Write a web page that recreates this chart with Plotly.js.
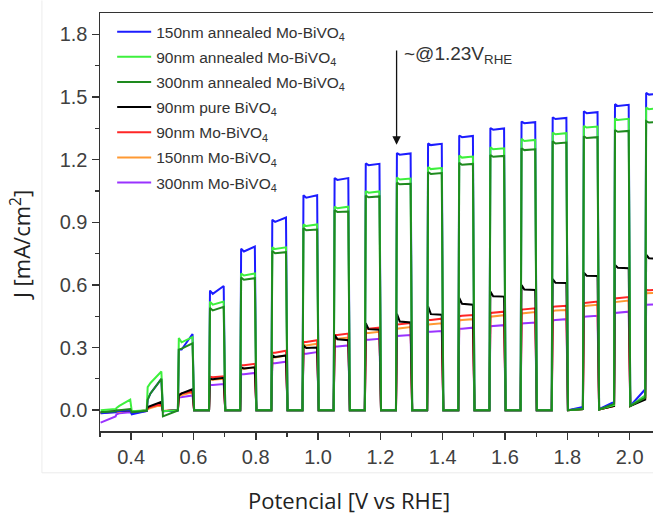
<!DOCTYPE html>
<html>
<head>
<meta charset="utf-8">
<script src="https://cdn.plot.ly/plotly-3.0.1.min.js"></script>
<style>html,body{margin:0;padding:0;background:#fff;}#chart{width:653px;height:518px;}</style>
</head>
<body>
<div id="chart"></div>
<script>
// Chopped-light J–V data. Light pulses start at 0.35, 0.45, ... 2.05 V (each 0.05 V long);
// dark periods start at 0.30, 0.40, ... 2.00 V.
const pulseOn = [0.35,0.45,0.55,0.65,0.75,0.85,0.95,1.05,1.15,1.25,1.35,1.45,1.55,1.65,1.75,1.85,1.95,2.05];
const darkOn  = [0.30,0.40,0.50,0.60,0.70,0.80,0.90,1.00,1.10,1.20,1.30,1.40,1.50,1.60,1.70,1.80,1.90,2.00];

// 150nm annealed Mo-BiVO4
const a150Start = [-0.005,0.05,0.29,0.573,0.773,0.912,1.03,1.112,1.182,1.232,1.278,1.316,1.352,1.383,1.403,1.432,1.466,1.52];
const a150Mid   = [-0.004,0.08,0.29,0.557,0.76,0.902,1.018,1.103,1.174,1.224,1.27,1.308,1.344,1.375,1.395,1.423,1.457,1.512];
const a150End   = [0.0,0.15,0.365,0.595,0.784,0.923,1.03,1.112,1.18,1.23,1.276,1.314,1.35,1.38,1.4,1.428,1.463,1.518];
const a150DarkS = [-0.015,-0.02,-0.005,0,0,0,0,0,0,0,0,0,0,0,0,0,0.005,0.02];
const a150DarkE = [-0.01,-0.004,-0.002,0,0,0,0,0,0,0,0,0,0,0,0,0.015,0.04,0.1];

// 90nm annealed Mo-BiVO4
const a90Start = [0.01,0.11,0.345,0.52,0.655,0.78,0.89,0.975,1.05,1.115,1.165,1.22,1.26,1.3,1.33,1.362,1.398,1.45];
const a90Mid   = [0.02,0.13,0.325,0.505,0.645,0.772,0.882,0.967,1.042,1.105,1.155,1.21,1.25,1.29,1.322,1.354,1.39,1.442];
const a90End   = [0.05,0.185,0.35,0.52,0.655,0.78,0.89,0.975,1.048,1.11,1.16,1.215,1.255,1.295,1.327,1.359,1.396,1.447];
const a90DarkS = [0.0,-0.005,-0.005,0,0,0,0,0,0,0,0,0,0,0,0,0,0.003,0.02];
const a90DarkE = [0.005,0.0,0,0,0,0,0,0,0,0,0,0,0,0,0,0.005,0.025,0.07];

// 300nm annealed Mo-BiVO4
const a300Start = [0.0,0.05,0.29,0.49,0.635,0.762,0.872,0.958,1.028,1.09,1.14,1.185,1.222,1.255,1.288,1.312,1.342,1.385];
const a300Mid   = [0.0,0.08,0.295,0.478,0.625,0.752,0.862,0.95,1.02,1.082,1.132,1.176,1.214,1.246,1.278,1.304,1.334,1.378];
const a300End   = [0.005,0.15,0.32,0.495,0.632,0.757,0.865,0.952,1.024,1.085,1.136,1.18,1.218,1.25,1.282,1.308,1.338,1.382];
const a300DarkS = [-0.01,-0.01,-0.03,0,0,0,0,0,0,0,0,0,0,0,0,0,0.003,0.02];
const a300DarkE = [-0.005,-0.003,-0.002,0,0,0,0,0,0,0,0,0,0,0,0,0.005,0.03,0.06];

// 90nm pure BiVO4
const p90Start = [-0.005,0.015,0.07,0.15,0.205,0.262,0.31,0.36,0.417,0.462,0.497,0.537,0.568,0.6,0.628,0.659,0.696,0.745];
const p90Mid   = [-0.004,0.02,0.08,0.148,0.2,0.255,0.298,0.34,0.388,0.425,0.46,0.51,0.546,0.578,0.61,0.644,0.682,0.728];
const p90End   = [0.0,0.04,0.1,0.155,0.205,0.262,0.3,0.335,0.385,0.42,0.457,0.505,0.544,0.576,0.609,0.643,0.68,0.725];
const p90DarkS = [-0.01,-0.008,-0.005,0,0,0,0,0,0,0,0,0,0,0,0,0,0.003,0.02];
const p90DarkE = [-0.005,-0.002,0,0,0,0,0,0,0,0,0,0,0,0,0,0.005,0.02,0.05];

// 90nm Mo-BiVO4
const m90Start = [-0.005,0.01,0.075,0.16,0.215,0.275,0.327,0.36,0.39,0.41,0.432,0.45,0.466,0.482,0.495,0.513,0.535,0.576];
const m90Mid   = [-0.004,0.015,0.08,0.158,0.215,0.275,0.327,0.36,0.39,0.412,0.432,0.452,0.468,0.484,0.497,0.515,0.537,0.575];
const m90End   = [0.0,0.03,0.09,0.162,0.222,0.285,0.335,0.367,0.395,0.418,0.438,0.456,0.472,0.488,0.5,0.52,0.542,0.578];
const m90DarkS = [-0.012,-0.008,-0.004,0,0,0,0,0,0,0,0,0,0,0,0,0,0.003,0.02];
const m90DarkE = [-0.006,-0.002,0,0,0,0,0,0,0,0,0,0,0,0,0,0.005,0.02,0.06];

// 150nm Mo-BiVO4
const m150Start = [-0.005,0.005,0.065,0.145,0.2,0.255,0.312,0.345,0.37,0.39,0.41,0.43,0.448,0.463,0.475,0.498,0.518,0.56];
const m150Mid   = [-0.005,0.01,0.072,0.145,0.198,0.252,0.31,0.342,0.37,0.392,0.412,0.432,0.45,0.465,0.477,0.5,0.52,0.56];
const m150End   = [-0.002,0.025,0.085,0.15,0.205,0.262,0.318,0.348,0.375,0.398,0.416,0.436,0.455,0.47,0.48,0.505,0.525,0.562];
const m150DarkS = [-0.015,-0.01,-0.004,0,0,0,0,0,0,0,0,0,0,0,0,0,0.003,0.02];
const m150DarkE = [-0.008,-0.003,0,0,0,0,0,0,0,0,0,0,0,0,0,0.005,0.02,0.055];

// 300nm Mo-BiVO4
const m300Start = [-0.02,0.01,0.06,0.12,0.172,0.225,0.27,0.305,0.337,0.355,0.375,0.39,0.402,0.415,0.43,0.447,0.466,0.505];
const m300Mid   = [-0.015,0.015,0.062,0.12,0.172,0.225,0.27,0.305,0.337,0.356,0.375,0.39,0.403,0.416,0.432,0.449,0.468,0.505];
const m300End   = [-0.01,0.025,0.07,0.125,0.178,0.232,0.278,0.31,0.342,0.36,0.379,0.395,0.407,0.42,0.436,0.452,0.472,0.507];
const m300DarkS = [-0.06,-0.015,-0.005,0,0,0,0,0,0,0,0,0,0,0,0,0,0.005,0.02];
const m300DarkE = [-0.03,-0.005,0,0,0,0,0,0,0,0,0,0,0,0,0,0.005,0.03,0.07];

const seriesNames = [
  '150nm annealed Mo-BiVO<sub>4</sub>',
  '90nm annealed Mo-BiVO<sub>4</sub>',
  '300nm annealed Mo-BiVO<sub>4</sub>',
  '90nm pure BiVO<sub>4</sub>',
  '90nm Mo-BiVO<sub>4</sub>',
  '150nm Mo-BiVO<sub>4</sub>',
  '300nm Mo-BiVO<sub>4</sub>'
];
const seriesColors = ['#1c1cff','#3df03d','#1e8a1e','#000000','#ff2626','#ff9933','#9a32ff'];

const seriesData = [
  [a150Start,a150Mid,a150End,a150DarkS,a150DarkE],
  [a90Start,a90Mid,a90End,a90DarkS,a90DarkE],
  [a300Start,a300Mid,a300End,a300DarkS,a300DarkE],
  [p90Start,p90Mid,p90End,p90DarkS,p90DarkE],
  [m90Start,m90Mid,m90End,m90DarkS,m90DarkE],
  [m150Start,m150Mid,m150End,m150DarkS,m150DarkE],
  [m300Start,m300Mid,m300End,m300DarkS,m300DarkE]
];

function buildCurve(d) {
  const [ls, lm, le, ds, de] = d;
  const x = [], y = [];
  for (let k = 0; k < pulseOn.length; k++) {
    const d0 = darkOn[k], on = pulseOn[k];
    x.push(d0 + 0.002); y.push(ds[k]);
    x.push(on); y.push(de[k]);
    x.push(on + 0.003); y.push(ls[k]);
    x.push(on + 0.012); y.push(lm[k]);
    x.push(on + 0.047); y.push(le[k]);
  }
  return {x, y};
}

// draw order: lower curves first, annealed on top (300nm annealed last)
const drawOrder = [6,5,4,3,0,1,2];
const traces = drawOrder.map(i => {
  const c = buildCurve(seriesData[i]);
  return {
    type: 'scatter', mode: 'lines', x: c.x, y: c.y,
    name: seriesNames[i], legendrank: i + 1, legendgroup: 'g' + i,
    line: {color: seriesColors[i], width: 2},
    hoverinfo: 'skip'
  };
});

const axisFont = {family: 'Liberation Sans, Arial, sans-serif', size: 20, color: '#404040'};
const titleFont = {family: 'Open Sans, sans-serif', size: 22, color: '#222'};

const layout = {
  width: 653, height: 518,
  margin: {l: 100, r: 0, t: 13, b: 87},
  paper_bgcolor: '#ffffff', plot_bgcolor: '#ffffff',
  showlegend: true,
  legend: {
    x: 0.022, y: 0.995, xanchor: 'left', yanchor: 'top',
    bgcolor: 'rgba(0,0,0,0)', borderwidth: 0,
    font: {family: 'Liberation Sans, Arial, sans-serif', size: 15.5, color: '#333333'},
    tracegroupgap: 2, itemwidth: 34
  },
  xaxis: {
    range: [0.3, 2.075], dtick: 0.2, tick0: 0, tickformat: '.1f',
    ticks: 'outside', ticklen: 7, tickwidth: 1.5, tickcolor: '#333',
    showline: true, linecolor: '#333', linewidth: 1.5, mirror: true,
    showgrid: false, zeroline: false,
    minor: {dtick: 0.1, tick0: 0, ticks: 'outside', ticklen: 4, tickwidth: 1.2, tickcolor: '#333', showgrid: false},
    tickfont: axisFont,
    title: {text: ''}
  },
  yaxis: {
    range: [-0.1, 1.903], dtick: 0.3, tick0: 0, tickformat: '.1f',
    ticks: 'outside', ticklen: 7, tickwidth: 1.5, tickcolor: '#333',
    showline: true, linecolor: '#333', linewidth: 1.5, mirror: false,
    showgrid: false, zeroline: false,
    minor: {dtick: 0.15, tick0: 0, ticks: 'outside', ticklen: 4, tickwidth: 1.2, tickcolor: '#333', showgrid: false},
    tickfont: axisFont,
    title: {text: ''}
  },
  shapes: [
    {type: 'line', xref: 'paper', yref: 'paper', x0: -0.105, x1: -0.105, y0: -0.1, y1: 1.03, line: {color: '#ececec', width: 1}},
    {type: 'line', xref: 'paper', yref: 'paper', x0: -0.105, x1: 1.0, y0: -0.1, y1: -0.1, line: {color: '#ececec', width: 1}}
  ],
  annotations: [
    {x: 1.252, y: 1.272, ax: 1.252, ay: 1.73, xref: 'x', yref: 'y', axref: 'x', ayref: 'y',
     showarrow: true, arrowhead: 2, arrowsize: 1.3, arrowwidth: 1.3, arrowcolor: '#111', text: ''},
    {x: 1.27, y: 1.70, xref: 'x', yref: 'y', xanchor: 'left', yanchor: 'middle', showarrow: false,
     text: '~@1.23V<sub>RHE</sub>', font: {family: 'Liberation Sans, Arial, sans-serif', size: 19, color: '#333'}},
    // axis titles (placed as in the reference, where the x title is centred on the uncropped plot)
    {xref: 'paper', yref: 'paper', x: (349 - 100) / 553, y: -(500 - 431) / 418, xanchor: 'center', yanchor: 'middle',
     showarrow: false, text: 'Potencial [V vs RHE]', font: titleFont},
    {xref: 'paper', yref: 'paper', x: (20 - 100) / 553, y: 1 - (245 - 13) / 418, xanchor: 'center', yanchor: 'middle',
     showarrow: false, textangle: -90, text: 'J [mA/cm<sup>2</sup>]', font: titleFont}
  ]
};

Plotly.newPlot('chart', traces, layout, {staticPlot: true, displayModeBar: false});
</script>
</body>
</html>
